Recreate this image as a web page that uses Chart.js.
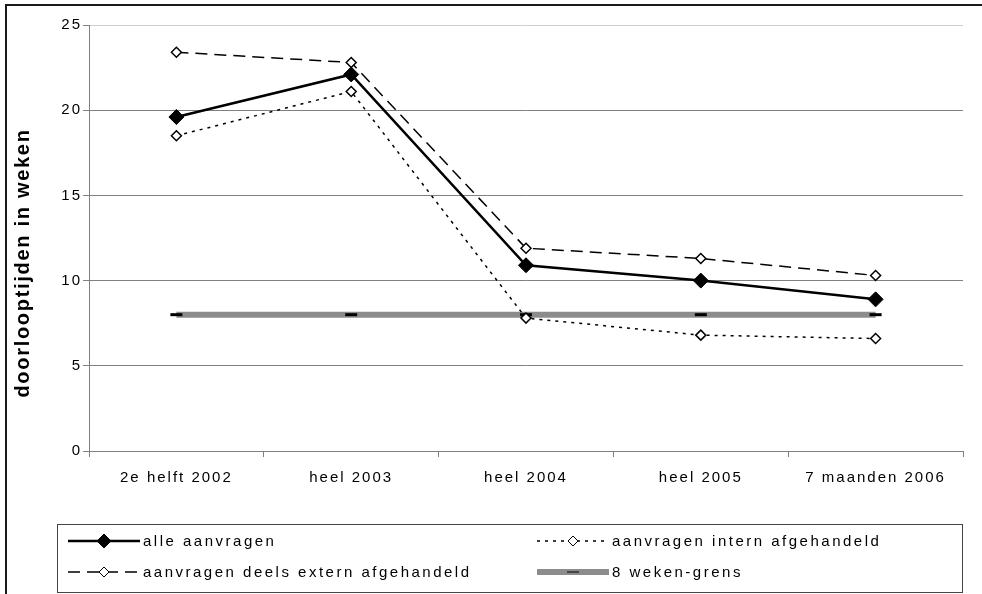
<!DOCTYPE html>
<html>
<head>
<meta charset="utf-8">
<script src="https://cdn.jsdelivr.net/npm/chart.js@4/dist/chart.umd.min.js"></script>
<style>
  html, body { margin: 0; padding: 0; background: #fff; }
  #wrap { width: 982px; height: 594px; position: relative; }
</style>
</head>
<body>
<div id="wrap"><canvas id="c" width="982" height="594"></canvas></div>
<script>
// Doorlooptijden (weeks) per period
const categories = ['2e helft 2002', 'heel 2003', 'heel 2004', 'heel 2005', '7 maanden 2006'];
const alleAanvragen = [19.6, 22.1, 10.9, 10.0, 8.9];
const internAfgehandeld = [18.5, 21.1, 7.8, 6.8, 6.6];
const deelsExternAfgehandeld = [23.4, 22.8, 11.9, 11.3, 10.3];
const wekenGrens = [8, 8, 8, 8, 8];
const yTicks = [0, 5, 10, 15, 20, 25];
const seriesLabels = ['alle aanvragen', 'aanvragen intern afgehandeld', 'aanvragen deels extern afgehandeld', '8 weken-grens'];
const yTitle = 'doorlooptijden in weken';

const FONT = '"Liberation Sans", Arial, sans-serif';
const TICK_SPACING = '2px';

// Outer frame, rotated axis title and the boxed two-column legend
const decorations = {
  id: 'decorations',
  beforeInit(chart) { chart.ctx.letterSpacing = TICK_SPACING; },
  beforeUpdate(chart) { chart.ctx.letterSpacing = TICK_SPACING; },
  beforeDraw(chart) {
    const ctx = chart.ctx;
    ctx.save();
    ctx.fillStyle = '#fff';
    ctx.fillRect(0, 0, chart.width, chart.height);
    ctx.strokeStyle = '#1a1a1a';
    ctx.lineWidth = 2;
    ctx.beginPath();
    ctx.moveTo(6, chart.height);
    ctx.lineTo(6, 5);
    ctx.lineTo(chart.width, 5);
    ctx.stroke();
    ctx.restore();
    ctx.letterSpacing = TICK_SPACING;
  },
  afterDraw(chart) {
    const ctx = chart.ctx;
    // y-axis title
    ctx.save();
    ctx.letterSpacing = '1.7px';
    ctx.translate(23, 263);
    ctx.rotate(-Math.PI / 2);
    ctx.font = 'bold 20px ' + FONT;
    ctx.fillStyle = '#000';
    ctx.textAlign = 'center';
    ctx.textBaseline = 'middle';
    ctx.fillText(yTitle, 0, 0);
    ctx.restore();

    // legend box
    ctx.save();
    ctx.strokeStyle = '#444';
    ctx.lineWidth = 1;
    ctx.strokeRect(57.5, 524.5, 905, 68);
    const cols = [68, 537];
    const rows = [541, 572];
    const sampleLen = 72;
    chart.data.datasets.forEach((ds, i) => {
      const x = cols[i % 2];
      const y = rows[Math.floor(i / 2)];
      ctx.save();
      ctx.strokeStyle = ds.borderColor;
      ctx.lineWidth = ds.borderWidth;
      ctx.setLineDash(ds.borderDash || []);
      ctx.beginPath();
      ctx.moveTo(x, y);
      ctx.lineTo(x + sampleLen, y);
      ctx.stroke();
      ctx.restore();
      ctx.save();
      ctx.fillStyle = ds.pointBackgroundColor;
      ctx.strokeStyle = ds.pointBorderColor;
      Chart.helpers.drawPoint(ctx, {
        pointStyle: ds.pointStyle,
        radius: ds.legendRadius,
        rotation: 0,
        borderWidth: ds.pointBorderWidth
      }, x + sampleLen / 2, y);
      ctx.restore();
      ctx.font = '15px ' + FONT;
      ctx.letterSpacing = '2.5px';
      ctx.fillStyle = '#000';
      ctx.textAlign = 'left';
      ctx.textBaseline = 'middle';
      ctx.fillText(ds.label, x + sampleLen + 3, y + 1);
    });
    ctx.restore();
  }
};

new Chart(document.getElementById('c'), {
  type: 'line',
  data: {
    labels: categories,
    datasets: [
      {
        label: seriesLabels[0], data: alleAanvragen, order: 0,
        borderColor: '#000', borderWidth: 2.5,
        pointStyle: 'rectRot', pointRadius: 7.5, legendRadius: 7,
        pointBackgroundColor: '#000', pointBorderColor: '#000', pointBorderWidth: 1
      },
      {
        label: seriesLabels[1], data: internAfgehandeld, order: 1,
        borderColor: '#000', borderWidth: 1.5, borderDash: [3, 5],
        pointStyle: 'rectRot', pointRadius: 5, legendRadius: 5,
        pointBackgroundColor: '#fff', pointBorderColor: '#000', pointBorderWidth: 1.5
      },
      {
        label: seriesLabels[2], data: deelsExternAfgehandeld, order: 2,
        borderColor: '#000', borderWidth: 1.5, borderDash: [12, 7],
        pointStyle: 'rectRot', pointRadius: 5, legendRadius: 5,
        pointBackgroundColor: '#fff', pointBorderColor: '#000', pointBorderWidth: 1.5
      },
      {
        label: seriesLabels[3], data: wekenGrens, order: 3,
        borderColor: '#8c8c8c', borderWidth: 6,
        pointStyle: 'line', pointRadius: 6, legendRadius: 6,
        pointBackgroundColor: '#000', pointBorderColor: '#000', pointBorderWidth: 3
      }
    ]
  },
  options: {
    responsive: false,
    animation: false,
    devicePixelRatio: 1,
    layout: { padding: { top: 25, right: 19, left: 0, bottom: 0 } },
    plugins: { legend: { display: false }, tooltip: { enabled: false }, title: { display: false } },
    elements: { line: { tension: 0, fill: false }, point: { hoverRadius: 0 } },
    scales: {
      x: {
        offset: true,
        afterFit(s) { s.height = 143; },
        grid: { drawOnChartArea: false, color: '#808080', tickLength: 6, offset: true },
        border: { color: '#808080', width: 1 },
        ticks: { color: '#000', font: { family: FONT, size: 15 }, padding: 12, maxRotation: 0, autoSkip: false }
      },
      y: {
        min: 0, max: 25,
        afterFit(s) { s.width = 89; },
        afterBuildTicks(s) { s.ticks = yTicks.map(v => ({ value: v })); },
        grid: {
          color: (c) => (c.tick && c.tick.value === 25 ? '#cfcfcf' : '#808080'),
          tickColor: '#808080', tickLength: 6
        },
        border: { color: '#808080', width: 1 },
        ticks: { color: '#000', font: { family: FONT, size: 15 }, padding: 1 }
      }
    }
  },
  plugins: [decorations]
});
</script>
</body>
</html>
